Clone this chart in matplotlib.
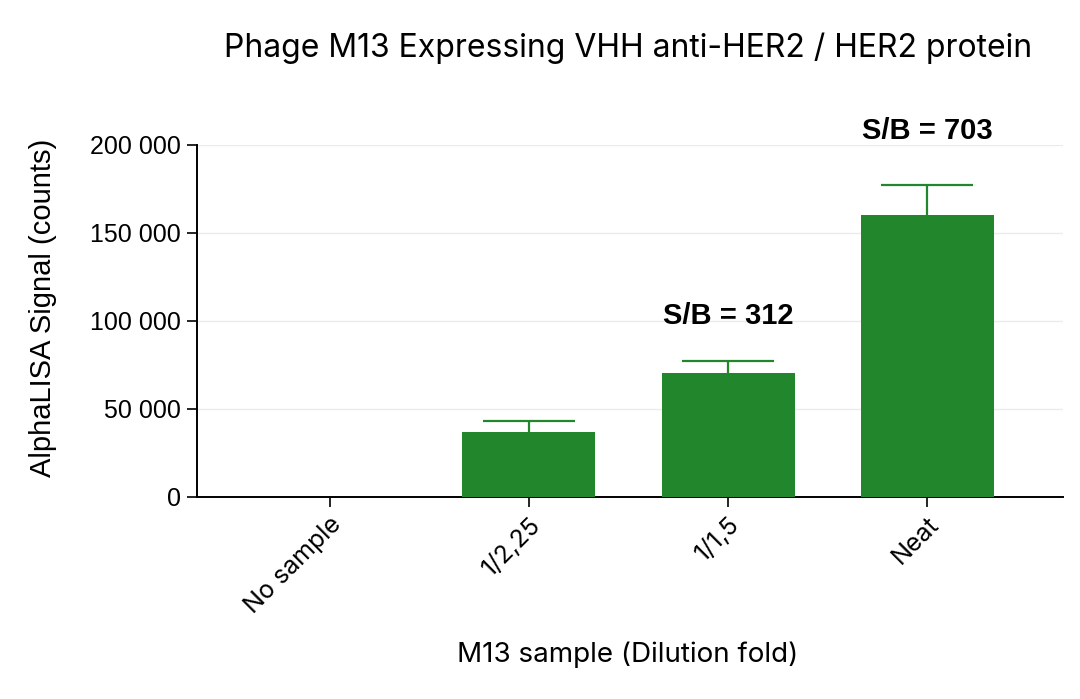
import matplotlib
matplotlib.use("Agg")
import matplotlib.pyplot as plt
from matplotlib.ticker import FuncFormatter

categories = ["No sample", "1/2,25", "1/1,5", "Neat"]
values = [228, 37100, 70500, 160000]
errors = [0, 6100, 6900, 17100]
annotations = {2: "S/B = 312", 3: "S/B = 703"}
yticks = [0, 50000, 100000, 150000, 200000]

green = "#22862d"

fig = plt.figure(figsize=(10.8, 6.99), dpi=100)
ax = fig.add_axes([197/1080, 1-497/699, (1063-197)/1080, (497-145)/699])

x = list(range(len(categories)))
ax.bar(x, values, width=0.667, color=green, edgecolor="none", zorder=3)
idx = [i for i in x if errors[i] > 0]
_, caps, _ = ax.errorbar([x[i] for i in idx], [values[i] for i in idx],
                         yerr=[[0]*len(idx), [errors[i] for i in idx]], fmt="none", ecolor=green,
                         elinewidth=1.6, capsize=33, capthick=1.6, zorder=4)
caps[0].set_visible(False)

ax.set_xlim(-0.665, 3.68)
ax.set_ylim(0, 200000)
ax.set_yticks(yticks)
ax.yaxis.set_major_formatter(FuncFormatter(lambda v, p: f"{int(v):,}".replace(",", " ")))
ax.set_xticks(x)
ax.set_xticklabels(categories, rotation=45, ha="right", rotation_mode="anchor",
                   fontsize=18, family=["Inter", "DejaVu Sans"])
for lab in ax.get_yticklabels():
    lab.set_fontsize(18)
    lab.set_family(["Liberation Sans", "DejaVu Sans"])

ax.grid(axis="y", color="#ebebeb", linewidth=1.0, zorder=0)
ax.set_axisbelow(True)
for s in ["top", "right"]:
    ax.spines[s].set_visible(False)
for s in ["left", "bottom"]:
    ax.spines[s].set_linewidth(1.4)
ax.tick_params(axis="both", length=7.5, width=1.2, direction="out", pad=4)

offsets = {2: 32, 3: 39}
for i, txt in annotations.items():
    ax.annotate(txt, (i, values[i] + errors[i]), xytext=(0, offsets[i]), textcoords="offset points",
                ha="center", va="center", fontsize=21, fontweight="bold",
                family=["Liberation Sans", "DejaVu Sans"])

ax.set_ylabel("AlphaLISA Signal (counts)", fontsize=21,
              family=["Liberation Sans", "DejaVu Sans"])
ax.yaxis.set_label_coords(-0.1617, 0.538)
ax.set_xlabel("M13 sample (Dilution fold)", fontsize=20, family=["Inter", "DejaVu Sans"])
ax.xaxis.set_label_coords(0.4977, -0.41)

fig.text(628/1080, 1-48/699, "Phage M13 Expressing VHH anti-HER2 / HER2 protein",
         ha="center", va="center", fontsize=23, family=["Inter", "DejaVu Sans"])

fig.savefig("out.png", dpi=100)
